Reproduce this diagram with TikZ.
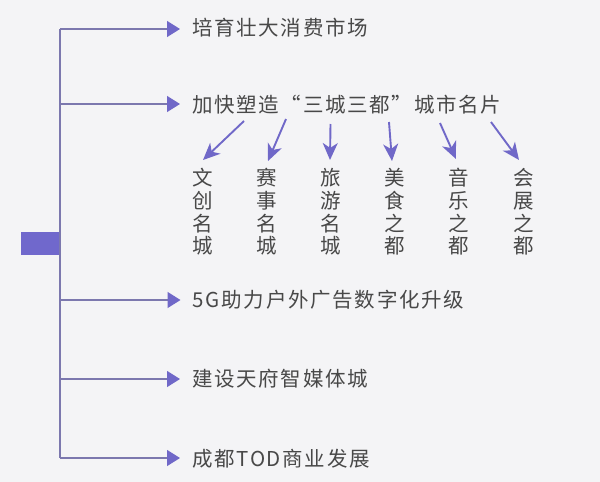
\documentclass[tikz,border=0pt]{standalone}
\usepackage{fontspec}
\usetikzlibrary{arrows.meta}
\newfontfamily\cjkfont[LetterSpace=8.3]{Noto Sans CJK SC}
\newfontfamily\cjkcol{Noto Sans CJK SC}
\definecolor{bgc}{HTML}{F4F4F6}
\definecolor{rootc}{HTML}{7068CC}
\definecolor{linec}{HTML}{7C78AE}
\definecolor{tipc}{HTML}{7068C8}
\definecolor{txtc}{HTML}{484848}
\tikzset{
  x=1pt,y=-1pt,
  itemlabel/.style={anchor=west,inner sep=0pt,text=txtc,font=\cjkfont\fontsize{20.5}{23}\selectfont},
  collabel/.style={anchor=center,inner sep=0pt,text=txtc,align=center,font=\cjkcol\fontsize{20.5}{22.7}\selectfont},
  branch/.style={draw=linec,line width=1.3pt,-{Triangle[length=13pt,width=16pt,color=tipc]},shorten >=12pt},
  subarrow/.style={draw=tipc,line width=1.9pt,-{Stealth[length=17pt,width=15pt,inset=5pt,color=tipc]}},
  trunkline/.style={draw=linec,line width=1.3pt},
}
\begin{document}
\begin{tikzpicture}
\useasboundingbox (0,0) rectangle (600,482);
\fill[bgc] (0,0) rectangle (600,482);
\node[draw=none,fill=rootc,minimum width=39pt,minimum height=23pt,inner sep=0pt,anchor=north west] (root) at (21,232) {};
\coordinate (j1) at (60,29);
\coordinate (j2) at (60,104);
\coordinate (j3) at (60,300);
\coordinate (j4) at (60,379);
\coordinate (j5) at (60,458);
\node[itemlabel] (t1) at (192,28) {培育壮大消费市场};
\node[itemlabel] (t2) at (192,105) {加快塑造“三城三都”城市名片};
\node[itemlabel] (t3) at (192.5,300) {5G助力户外广告数字化升级};
\node[itemlabel] (t4) at (192,379) {建设天府智媒体城};
\node[itemlabel] (t5) at (192,459) {成都TOD商业发展};
\draw[trunkline] (j1) -- (j5);
\draw[branch] (j1) -- (t1.west |- j1);
\draw[branch] (j2) -- (t2.west |- j2);
\draw[branch] (j3) -- (t3.west |- j3);
\draw[branch] (j4) -- (t4.west |- j4);
\draw[branch] (j5) -- (t5.west |- j5);
\node[collabel] (c1) at (202.5,212) {文\\创\\名\\城};
\node[collabel] (c2) at (266.5,212) {赛\\事\\名\\城};
\node[collabel] (c3) at (331,212) {旅\\游\\名\\城};
\node[collabel] (c4) at (395,212) {美\\食\\之\\都};
\node[collabel] (c5) at (459,212) {音\\乐\\之\\都};
\node[collabel] (c6) at (523.5,212) {会\\展\\之\\都};
\coordinate (s1) at (244,121); \coordinate (e1) at (203,160);
\coordinate (s2) at (286,119); \coordinate (e2) at (268,161);
\coordinate (s3) at (330.5,124); \coordinate (e3) at (330,160);
\coordinate (s4) at (389,122); \coordinate (e4) at (392,161);
\coordinate (s5) at (440,123); \coordinate (e5) at (456,159);
\coordinate (s6) at (491,122); \coordinate (e6) at (519,160);
\draw[subarrow] (s1) -- (e1);
\draw[subarrow] (s2) -- (e2);
\draw[subarrow] (s3) -- (e3);
\draw[subarrow] (s4) -- (e4);
\draw[subarrow] (s5) -- (e5);
\draw[subarrow] (s6) -- (e6);
\end{tikzpicture}
\end{document}
